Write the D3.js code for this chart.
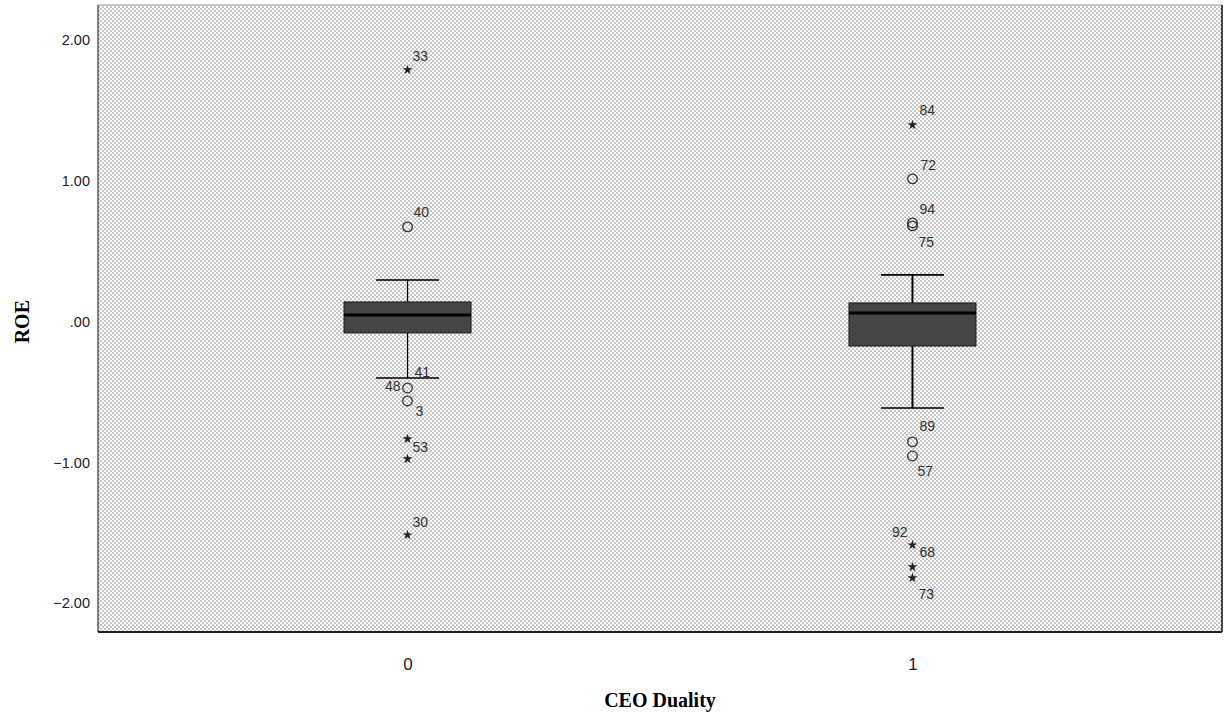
<!DOCTYPE html>
<html>
<head>
<meta charset="utf-8">
<script src="https://cdnjs.cloudflare.com/ajax/libs/d3/7.8.5/d3.min.js"></script>
<style>
    body { margin: 0; background: #fff; }
</style>
</head>
<body>
<div id="chart"></div>
<script>

// groups
const categories = ["0", "1"];

// box stats per group
const whiskerLow = [-0.400, -0.613];
const q1 = [-0.080, -0.173];
const median = [0.048, 0.062];
const q3 = [0.140, 0.133];
const whiskerHigh = [0.296, 0.332];

// outliers (o = outlier, * = extreme)
const outGroup = ["0", "0", "0", "0", "0", "0", "0", "1", "1", "1", "1", "1", "1", "1", "1", "1"];
const outValue = [1.788, 0.673, -0.471, -0.563, -0.833, -0.975, -1.515, 1.397, 1.014, 0.701, 0.680, -0.854, -0.954, -1.586, -1.742, -1.820];
const outType = ["*", "o", "o", "o", "*", "*", "*", "*", "o", "o", "o", "o", "o", "*", "*", "*"];
const outLabel = ["33", "40", "48", "3", "53", "", "30", "84", "72", "94", "75", "89", "57", "92", "68", "73"];

// case label on lower whisker
const whiskerLabel = ["41", ""];

const yTicks = [2, 1, 0, -1, -2];

// label offsets (layout only)
const labelPos = {
    "33": [5, -9], "40": [6, -10], "48": [-7, 3, "end"], "3": [8, 15], "53": [5, 13], "30": [5, -8],
    "84": [7, -10], "72": [8, -9], "94": [7, -9], "75": [6, 21], "89": [7, -11], "57": [5, 20],
    "92": [-5, -8, "end"], "68": [7, -10], "73": [6, 21]
};

const W = 1225, H = 715;
const plot = {left: 98, top: 5, right: 1222, bottom: 632};

const svg = d3.select("#chart").append("svg")
    .attr("width", W)
    .attr("height", H);

// dotted background pattern
const pat = svg.append("defs").append("pattern")
    .attr("id", "dots")
    .attr("patternUnits", "userSpaceOnUse")
    .attr("width", 4).attr("height", 4);
pat.append("rect").attr("width", 4).attr("height", 4).attr("fill", "#fff");
pat.append("rect").attr("x", 0).attr("y", 0).attr("width", 2).attr("height", 2).attr("fill", "#c6c6c6");
pat.append("rect").attr("x", 2).attr("y", 2).attr("width", 2).attr("height", 2).attr("fill", "#c6c6c6");

//scales
const x = d3.scalePoint()
    .domain(categories)
    .range([plot.left, plot.right])
    .padding(0.613);

const y = d3.scaleLinear()
    .domain([-2.204, 2.249])
    .range([plot.bottom, plot.top]);

svg.append("rect")
    .attr("x", plot.left).attr("y", plot.top)
    .attr("width", plot.right - plot.left)
    .attr("height", plot.bottom - plot.top)
    .attr("fill", "url(#dots)");

// frame
svg.append("line").attr("x1", plot.left).attr("x2", plot.right).attr("y1", plot.top).attr("y2", plot.top)
    .attr("stroke", "#b8b8b8").attr("stroke-width", 1.5);
svg.append("line").attr("x1", plot.left).attr("x2", plot.left).attr("y1", plot.top).attr("y2", plot.bottom)
    .attr("stroke", "#555").attr("stroke-width", 1.5);
svg.append("line").attr("x1", plot.right).attr("x2", plot.right).attr("y1", plot.top).attr("y2", plot.bottom)
    .attr("stroke", "#111").attr("stroke-width", 1.5);
svg.append("line").attr("x1", plot.left).attr("x2", plot.right).attr("y1", plot.bottom).attr("y2", plot.bottom)
    .attr("stroke", "#222").attr("stroke-width", 2);

// y axis
const yAxis = d3.axisLeft(y)
    .tickValues(yTicks)
    .tickSize(0)
    .tickPadding(8)
    .tickFormat(d => d === 0 ? ".00" : d3.format(".2f")(d));
const yG = svg.append("g")
    .attr("transform", "translate(" + plot.left + ",0)")
    .call(yAxis);
yG.select(".domain").remove();
yG.selectAll(".tick text")
    .attr("fill", "#222")
    .style("font-family", "'Liberation Sans', Arial, sans-serif")
    .style("font-size", "14.5px");

// x axis
const xAxis = d3.axisBottom(x).tickSize(0).tickPadding(26);
const xG = svg.append("g")
    .attr("transform", "translate(0," + plot.bottom + ")")
    .call(xAxis);
xG.select(".domain").remove();
xG.selectAll(".tick text")
    .attr("fill", "#222")
    .style("font-family", "'Liberation Sans', Arial, sans-serif")
    .style("font-size", "17px");

// axis titles
svg.append("text")
    .attr("x", 660).attr("y", 707)
    .attr("text-anchor", "middle")
    .style("font-family", "'Liberation Serif', 'Times New Roman', serif")
    .style("font-weight", "bold")
    .style("font-size", "20px")
    .text("CEO Duality");

svg.append("text")
    .attr("transform", "translate(29," + y(0) + ") rotate(-90)")
    .attr("text-anchor", "middle")
    .style("font-family", "'Liberation Serif', 'Times New Roman', serif")
    .style("font-weight", "bold")
    .style("font-size", "20px")
    .text("ROE");

// boxes
const boxW = 127, capW = 63;
const whiskW = [1.3, 2];

categories.forEach((c, i) => {
    const cx = x(c);
    const g = svg.append("g").attr("class", "box");

    // whisker stems
    g.append("line")
        .attr("x1", cx).attr("x2", cx)
        .attr("y1", y(whiskerHigh[i])).attr("y2", y(q3[i]))
        .attr("stroke", "#000").attr("stroke-width", whiskW[i]);
    g.append("line")
        .attr("x1", cx).attr("x2", cx)
        .attr("y1", y(q1[i])).attr("y2", y(whiskerLow[i]))
        .attr("stroke", "#000").attr("stroke-width", whiskW[i]);

    // caps
    [whiskerHigh[i], whiskerLow[i]].forEach(v => {
        g.append("line")
            .attr("x1", cx - capW / 2).attr("x2", cx + capW / 2)
            .attr("y1", y(v)).attr("y2", y(v))
            .attr("stroke", "#000").attr("stroke-width", 1.6);
    });

    g.append("rect")
        .attr("x", cx - boxW / 2)
        .attr("y", y(q3[i]))
        .attr("width", boxW)
        .attr("height", y(q1[i]) - y(q3[i]))
        .attr("fill", "#454545")
        .attr("stroke", "#1a1a1a")
        .attr("stroke-width", 1);

    g.append("line")
        .attr("x1", cx - boxW / 2).attr("x2", cx + boxW / 2)
        .attr("y1", y(median[i])).attr("y2", y(median[i]))
        .attr("stroke", "#000").attr("stroke-width", 3);

    if (whiskerLabel[i]) {
        g.append("text")
            .attr("x", cx + 7).attr("y", y(whiskerLow[i]) - 1)
            .attr("fill", "#333")
            .style("font-family", "'Liberation Sans', Arial, sans-serif")
            .style("font-size", "14px")
            .text(whiskerLabel[i]);
    }
});

// outliers
const star = d3.symbol().type(d3.symbolStar).size(30);
const pts = svg.append("g").attr("class", "outliers");

outValue.forEach((v, i) => {
    const px = x(outGroup[i]), py = y(v);
    if (outType[i] === "*") {
        pts.append("path")
            .attr("d", star())
            .attr("transform", "translate(" + px + "," + py + ")")
            .attr("fill", "#222");
    } else {
        pts.append("circle")
            .attr("cx", px).attr("cy", py).attr("r", 4.8)
            .attr("fill", "none")
            .attr("stroke", "#333")
            .attr("stroke-width", 1.3);
    }
    const lb = outLabel[i];
    if (lb) {
        const o = labelPos[lb] || [6, -8];
        pts.append("text")
            .attr("x", px + o[0]).attr("y", py + o[1])
            .attr("text-anchor", o[2] || "start")
            .attr("fill", "#333")
            .style("font-family", "'Liberation Sans', Arial, sans-serif")
            .style("font-size", "14px")
            .text(lb);
    }
});

</script>
</body>
</html>
